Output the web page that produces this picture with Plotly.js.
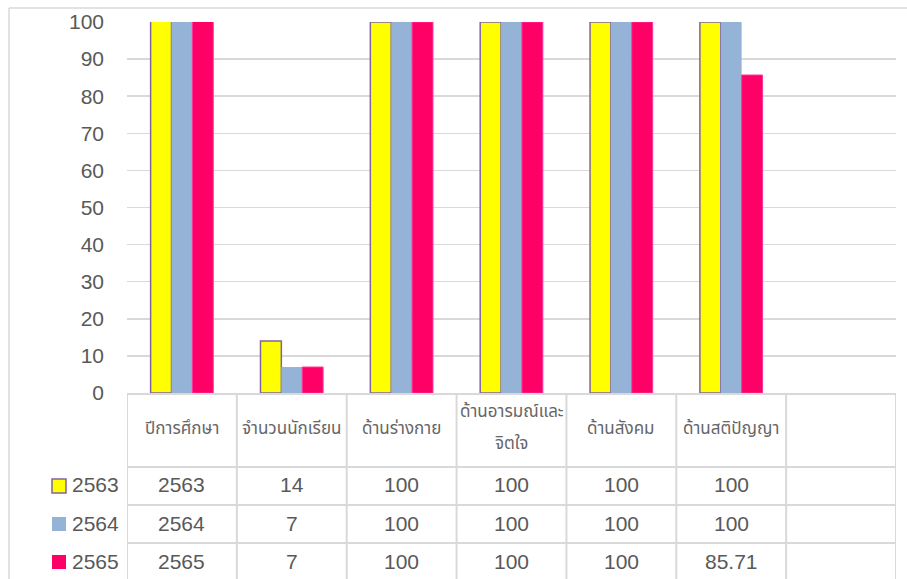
<!DOCTYPE html>
<html>
<head>
<meta charset="utf-8">
<script src="https://cdn.plot.ly/plotly-3.0.1.min.js"></script>
<style>html,body{margin:0;padding:0;background:#fff;}#chart{width:907px;height:579px;}</style>
</head>
<body>
<div id="chart"></div>
<script>
const categories = ["ปีการศึกษา", "จำนวนนักเรียน", "ด้านร่างกาย", "ด้านอารมณ์และจิตใจ", "ด้านสังคม", "ด้านสติปัญญา", ""];
const headerLabels = ["ปีการศึกษา", "จำนวนนักเรียน", "ด้านร่างกาย", "ด้านอารมณ์และ<br>จิตใจ", "ด้านสังคม", "ด้านสติปัญญา", ""];
const seriesNames = ["2563", "2564", "2565"];
const values2563 = [2563, 14, 100, 100, 100, 100];
const values2564 = [2564, 7, 100, 100, 100, 100];
const values2565 = [2565, 7, 100, 100, 100, 85.71];
const yTicks = [0, 10, 20, 30, 40, 50, 60, 70, 80, 90, 100];

const seriesValues = [values2563, values2564, values2565];
const colors = ["#FFFF00", "#95B3D7", "#FF0066"];
const outlines = [{color: "#8064A2", width: 1.5}, {color: "#95B3D7", width: 0}, {color: "#FF3399", width: 1}];

const W = 907, H = 579, mL = 127, mR = 11, mT = 22, mB = 186;
const pw = W - mL - mR, ph = H - mT - mB;
const px = x => (x - mL) / pw;
const py = y => (H - mB - y) / ph;

const xIdx = categories.slice(0, 6).map((c, i) => i);
const traces = seriesValues.map((v, s) => ({
  type: "bar",
  name: seriesNames[s],
  x: xIdx,
  y: v,
  marker: {color: colors[s], line: outlines[s]},
  hoverinfo: "skip"
}));

const THAI = "Tahoma, 'Noto Sans Thai', 'Leelawadee UI', 'Noto Sans', sans-serif";
const NUM = "'Liberation Sans', Arial, sans-serif";
const txt = "#595959";
const grid = "#D9D9D9";

const shapes = [];
const annotations = [];

// outer chart border
shapes.push({type: "line", xref: "paper", yref: "paper", x0: px(9), x1: px(9), y0: py(8), y1: py(600), line: {color: grid, width: 1.5}});
shapes.push({type: "line", xref: "paper", yref: "paper", x0: px(9), x1: px(910), y0: py(8), y1: py(8), line: {color: grid, width: 1.5}});

// table rows
const rowLines = [467, 505, 543, 581];
rowLines.forEach(r => shapes.push({type: "line", xref: "x", yref: "paper", x0: -1.264, x1: categories.length - 0.5, y0: py(r), y1: py(r), line: {color: grid, width: 2}}));
// vertical lines
for (let k = 0; k <= categories.length; k++) {
  shapes.push({type: "line", xref: "x", yref: "paper", x0: k - 0.5, x1: k - 0.5, y0: 0, y1: py(600), line: {color: grid, width: 2}});
}
shapes.push({type: "line", xref: "x", yref: "paper", x0: -1.264, x1: -1.264, y0: py(467), y1: py(600), line: {color: grid, width: 2}});

// header labels
headerLabels.forEach((lab, i) => {
  if (!lab) return;
  const lines = lab.split("<br>");
  const centers = lines.length === 1 ? [429] : [412, 444];
  lines.forEach((ln, j) => annotations.push({
    xref: "x", yref: "paper", x: i, y: py(centers[j]), text: ln, showarrow: false,
    xanchor: "center", yanchor: "middle", font: {family: THAI, size: 17, color: "#666666"}
  }));
});

// table values and legend keys
const rowCenters = [486, 524, 562];
seriesValues.forEach((v, s) => {
  v.forEach((val, i) => annotations.push({
    xref: "x", yref: "paper", x: i, y: py(rowCenters[s] - 1), text: String(val), showarrow: false,
    xanchor: "center", yanchor: "middle", font: {family: NUM, size: 21, color: txt}
  }));
  shapes.push({type: "rect", xref: "paper", yref: "paper", x0: px(52), x1: px(66), y0: py(rowCenters[s] - 7), y1: py(rowCenters[s] + 7),
    fillcolor: colors[s], line: {color: s === 0 ? "#8064A2" : colors[s], width: s === 0 ? 1.5 : 0}});
  annotations.push({xref: "paper", yref: "paper", x: px(70), y: py(rowCenters[s] - 1), text: seriesNames[s], showarrow: false,
    xanchor: "left", yanchor: "middle", font: {family: NUM, size: 21, color: txt}});
});

const layout = {
  width: W, height: H,
  margin: {l: mL, r: mR, t: mT, b: mB, pad: 0},
  paper_bgcolor: "#FFFFFF", plot_bgcolor: "#FFFFFF",
  showlegend: false,
  barmode: "group", bargap: 0.43, bargroupgap: 0,
  xaxis: {type: "linear", range: [-0.5, categories.length - 0.5], showticklabels: false, showgrid: false, zeroline: false,
    showline: true, linecolor: grid, linewidth: 2, ticks: ""},
  yaxis: {range: [0, 100], tickvals: yTicks, ticktext: yTicks.map(String), showgrid: true, gridcolor: grid, gridwidth: 1.5,
    zeroline: false, showline: false, ticks: "", ticklabelstandoff: 22,
    tickfont: {family: NUM, size: 21, color: txt}},
  shapes: shapes,
  annotations: annotations
};

Plotly.newPlot("chart", traces, layout, {displayModeBar: false, staticPlot: true});
</script>
</body>
</html>
